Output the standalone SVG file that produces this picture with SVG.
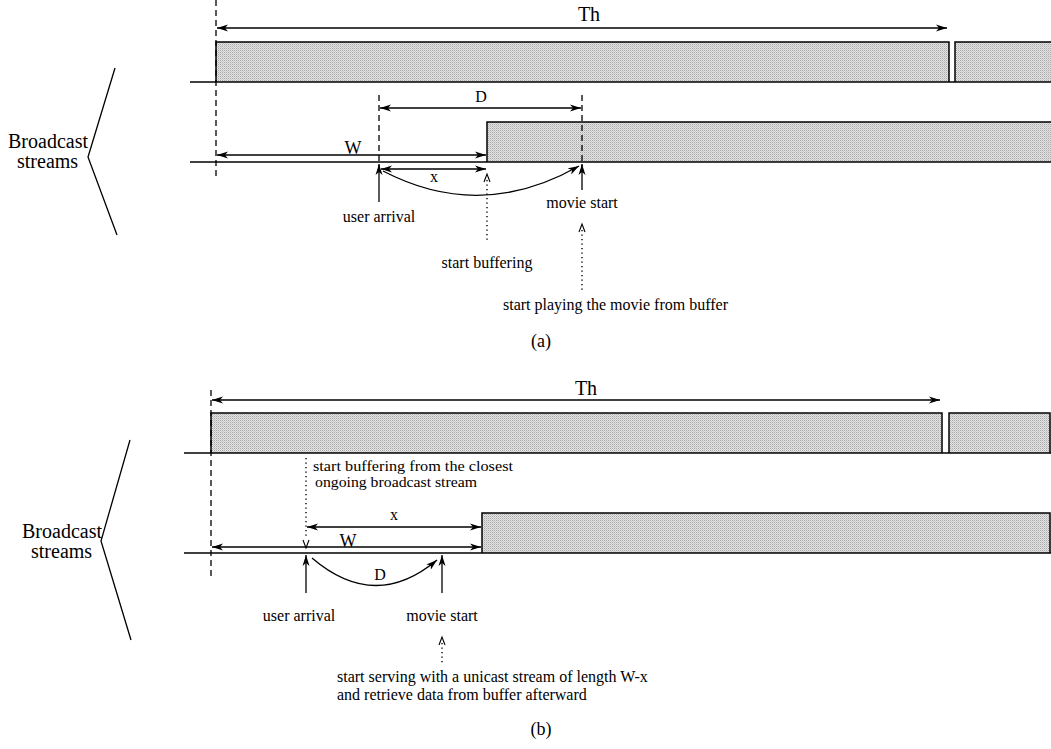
<svg xmlns="http://www.w3.org/2000/svg" width="1051" height="749" viewBox="0 0 1051 749">
<defs>
<pattern id="stip" width="2" height="2" patternUnits="userSpaceOnUse"><rect width="2" height="2" fill="#e4e4e4"/><rect width="1" height="1" fill="#a8a8a8"/><rect x="1" y="1" width="1" height="1" fill="#c8c8c8"/></pattern>
<marker id="ah" markerUnits="userSpaceOnUse" markerWidth="12" markerHeight="8" refX="11" refY="4" orient="auto-start-reverse"><path d="M0,0.5 L11,4 L0,7.5 L3,4 z" fill="#000"/></marker>
<style>
.ln{stroke:#000;stroke-width:1.3;fill:none}
.base{stroke:#000;stroke-width:1.6;fill:none}
.dash{stroke:#000;stroke-width:1.3;stroke-dasharray:6,4;fill:none}
.dot{stroke:#000;stroke-width:1.4;stroke-dasharray:1.3,3.2;fill:none}
.arr{stroke:#000;stroke-width:1.3;fill:none;marker-end:url(#ah)}
.arr2{stroke:#000;stroke-width:1.3;fill:none;marker-start:url(#ah);marker-end:url(#ah)}
.open{stroke:#000;stroke-width:1.1;fill:none}
.bar{fill:url(#stip)}
.edge{stroke:#000;stroke-width:1.5;fill:none}
text{font-family:"Liberation Serif","Times New Roman",serif;fill:#000}
.t15{font-size:15px}
.t16{font-size:16px}
.t18{font-size:18px}
.t20{font-size:20px}
.c{text-anchor:middle}
</style>
</defs>

<!-- ===== (a) ===== -->
<g id="a-bracket">
<path class="ln" d="M115,68 L88,157 L117,235"/>
<text class="t20" x="8" y="148">Broadcast</text>
<text class="t20" x="17" y="168">streams</text>
</g>
<g id="a-stream1">
<rect class="bar" x="216" y="42" width="733" height="40"/>
<rect class="bar" x="955" y="42" width="96" height="40"/>
<path class="edge" d="M216,82 V42 H949 V82 M955,82 V42 H1051"/>
<path class="base" d="M190,82 H1051"/>
</g>
<g id="a-stream2">
<rect class="bar" x="487" y="122" width="564" height="40"/>
<path class="edge" d="M487,162 V122 H1051"/>
<path class="base" d="M190,162 H1051"/>
</g>
<g id="a-labels">
<text class="t20 c" x="589" y="21">Th</text>
<text class="t16 c" x="481" y="102">D</text>
<text class="t18 c" x="353" y="154">W</text>
<text class="t16 c" x="434" y="182">x</text>
<text class="t16 c" x="379" y="222">user arrival</text>
<text class="t16 c" x="582" y="208">movie start</text>
<text class="t16 c" x="487" y="268">start buffering</text>
<text class="t16" x="503" y="310">start playing the movie from buffer</text>
<text class="t18 c" x="541" y="347">(a)</text>
</g>
<g id="a-connectors">
<path class="dash" d="M216,0 V180"/>
<path class="dash" d="M379,95 V166"/>
<path class="dash" d="M582,95 V166"/>
<path class="arr2" d="M217,28 H947"/>
<path class="arr2" d="M380,108 H581"/>
<path class="arr2" d="M217,155 H486"/>
<path class="arr2" d="M381,169 H486"/>
<path class="arr" d="M379,202 V164"/>
<path class="arr" d="M582,190 V164"/>
<path class="arr" d="M383,171 Q481,222 579,166"/>
<path class="dot" d="M487,180 V243"/>
<path class="open" d="M484,182 L487,174 L490,182"/>
<path class="dot" d="M582,230 V290"/>
<path class="open" d="M579,232 L582,224 L585,232"/>
</g>

<!-- ===== (b) ===== -->
<g id="b-bracket">
<path class="ln" d="M130,440 L101,541 L131,640"/>
<text class="t20" x="22" y="538">Broadcast</text>
<text class="t20" x="31" y="558">streams</text>
</g>
<g id="b-stream1">
<rect class="bar" x="211" y="413" width="731" height="40"/>
<rect class="bar" x="949" y="413" width="101" height="40"/>
<path class="edge" d="M211,453 V413 H942 V453 M949,453 V413 H1050 V453"/>
<path class="base" d="M184,453 H1051"/>
</g>
<g id="b-stream2">
<rect class="bar" x="482" y="513" width="568" height="40"/>
<path class="edge" d="M482,553 V513 H1050 V553"/>
<path class="base" d="M184,553 H1051"/>
</g>
<g id="b-labels">
<text class="t20 c" x="586" y="395">Th</text>
<text class="t15" x="313" y="471" textLength="200" lengthAdjust="spacingAndGlyphs">start buffering from the closest</text>
<text class="t15" x="315" y="487" textLength="162" lengthAdjust="spacingAndGlyphs">ongoing broadcast stream</text>
<text class="t16 c" x="394" y="520">x</text>
<text class="t18 c" x="348" y="547">W</text>
<text class="t16 c" x="380" y="580">D</text>
<text class="t16 c" x="299" y="621">user arrival</text>
<text class="t16 c" x="442" y="621">movie start</text>
<text class="t16" x="337" y="682">start serving with a unicast stream of length W-x</text>
<text class="t16" x="337" y="700">and retrieve data from buffer afterward</text>
<text class="t18 c" x="541" y="735">(b)</text>
</g>
<g id="b-connectors">
<path class="dash" d="M211,390 V580"/>
<path class="arr2" d="M212,400 H940"/>
<path class="dot" d="M306,458 V538"/>
<path class="open" d="M303,540 L306,548 L309,540"/>
<path class="arr2" d="M307,527 H481"/>
<path class="arr2" d="M212,547 H481"/>
<path class="arr" d="M306,593 V555"/>
<path class="arr" d="M442,593 V555"/>
<path class="arr" d="M312,558 Q375,612 437,560"/>
<path class="dot" d="M442,643 V665"/>
<path class="open" d="M439,645 L442,637 L445,645"/>
</g>
</svg>
